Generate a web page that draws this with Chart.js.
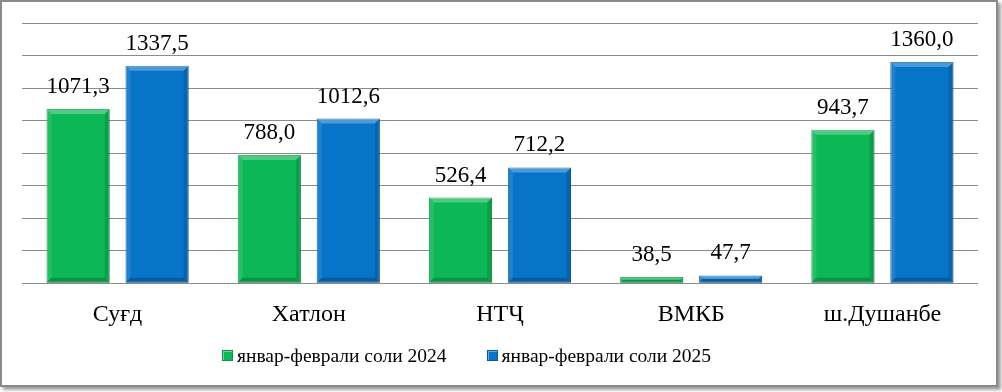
<!DOCTYPE html>
<html>
<head>
<meta charset="utf-8">
<script src="https://cdn.jsdelivr.net/npm/chart.js@4.4.1/dist/chart.umd.min.js"></script>
<style>
    html, body { margin: 0; padding: 0; background: #fff; }
    #frame {
        position: absolute; left: 0; top: 0;
        width: 994px; height: 383px;
        border: 2px solid #8a8a8a;
        box-shadow: 3px 3px 3px #a0a0a0;
        background: #fff;
    }
    #wrap { position: absolute; left: 0; top: 0; width: 1002px; height: 392px; }
    #legend {
        position: absolute; left: 222px; top: 345px;
        font-family: 'Liberation Serif', 'Times New Roman', serif;
        font-size: 19.5px; color: #000; white-space: nowrap;
    }
    #legend .item { display: inline-block; margin-right: 40px; }
    #legend .box {
        display: inline-block; width: 11px; height: 11px; margin-right: 4px;
        vertical-align: 1px; box-sizing: border-box;
    }
</style>
</head>
<body>
<div id="frame"></div>
<div id="wrap"><canvas id="canvas1"></canvas></div>
<div id="legend"></div>
<script>
const regions = ["Суғд", "Хатлон", "НТҶ", "ВМКБ", "ш.Душанбе"];
const vals2024 = [1071.3, 788.0, 526.4, 38.5, 943.7];
const vals2025 = [1337.5, 1012.6, 712.2, 47.7, 1360.0];
const seriesNames = ["январ-феврали соли 2024", "январ-феврали соли 2025"];
const colors = ['#0cb855', '#0774c8'];
const edgeColors = ['#08964a', '#065a9e'];

const fontFam = "'Liberation Serif', 'Times New Roman', serif";

function fmt(v) {
    return v.toFixed(1).replace(".", ",");
}

// бевел по краям столбиков
const bevelPlugin = {
    id: 'bevel',
    afterDatasetsDraw(chart) {
        const ctx = chart.ctx;
        chart.data.datasets.forEach((ds, i) => {
            const meta = chart.getDatasetMeta(i);
            meta.data.forEach(bar => {
                const l = bar.x - bar.width / 2, r = bar.x + bar.width / 2;
                const t = bar.y, b = bar.base;
                const d = Math.min(5, (b - t) / 2);
                ctx.save();
                ctx.fillStyle = 'rgba(255,255,255,0.28)';
                ctx.beginPath();
                ctx.moveTo(l, t); ctx.lineTo(r, t); ctx.lineTo(r - d, t + d); ctx.lineTo(l + d, t + d);
                ctx.closePath(); ctx.fill();
                ctx.fillStyle = 'rgba(255,255,255,0.10)';
                ctx.beginPath();
                ctx.moveTo(l, t); ctx.lineTo(l + d, t + d); ctx.lineTo(l + d, b - d); ctx.lineTo(l, b);
                ctx.closePath(); ctx.fill();
                ctx.fillStyle = 'rgba(0,0,0,0.13)';
                ctx.beginPath();
                ctx.moveTo(r, t); ctx.lineTo(r - d, t + d); ctx.lineTo(r - d, b - d); ctx.lineTo(r, b);
                ctx.closePath(); ctx.fill();
                ctx.fillStyle = 'rgba(0,0,0,0.2)';
                ctx.beginPath();
                ctx.moveTo(l, b); ctx.lineTo(l + d, b - d); ctx.lineTo(r - d, b - d); ctx.lineTo(r, b);
                ctx.closePath(); ctx.fill();
                ctx.restore();
            });
        });
    }
};

// подписи значений
const labelPlugin = {
    id: 'valueLabels',
    afterDatasetsDraw(chart) {
        const ctx = chart.ctx;
        ctx.save();
        ctx.font = "23px " + fontFam;
        ctx.fillStyle = '#000';
        ctx.textAlign = 'center';
        ctx.textBaseline = 'alphabetic';
        chart.data.datasets.forEach((ds, i) => {
            const meta = chart.getDatasetMeta(i);
            meta.data.forEach((bar, j) => {
                ctx.fillText(fmt(ds.data[j]), bar.x, bar.y - 16);
            });
        });
        ctx.restore();
    }
};

const data = {
    labels: regions,
    datasets: [
        {
            label: seriesNames[0],
            data: vals2024,
            backgroundColor: colors[0],
            borderColor: edgeColors[0],
            borderWidth: 1,
            borderSkipped: false,
            barPercentage: 0.8,
            categoryPercentage: 0.826
        },
        {
            label: seriesNames[1],
            data: vals2025,
            backgroundColor: colors[1],
            borderColor: edgeColors[1],
            borderWidth: 1,
            borderSkipped: false,
            barPercentage: 0.8,
            categoryPercentage: 0.826
        }
    ]
};

const config = {
    type: 'bar',
    data: data,
    options: {
        responsive: true,
        maintainAspectRatio: false,
        animation: false,
        layout: { padding: { left: 22, right: 24, top: 23, bottom: 54 } },
        plugins: {
            legend: { display: false },
            tooltip: { enabled: false }
        },
        scales: {
            x: {
                grid: { display: false },
                border: { display: false },
                ticks: { font: { family: fontFam, size: 24 }, color: '#000', padding: 9 }
            },
            y: {
                min: 0, max: 1600,
                ticks: { display: false, stepSize: 200 },
                grid: { color: '#8c8c8c', lineWidth: 1, drawTicks: false },
                border: { display: false }
            }
        }
    },
    plugins: [bevelPlugin, labelPlugin]
};

var canvas = document.getElementById("canvas1");
const chart = new Chart(canvas, config);

// легенда
const legendDiv = document.getElementById("legend");
seriesNames.forEach((name, i) => {
    const item = document.createElement("span");
    item.className = "item";
    const box = document.createElement("span");
    box.className = "box";
    box.style.background = colors[i];
    box.style.border = "1px solid " + edgeColors[i];
    box.style.boxShadow = "inset 1px 1px 0 rgba(255,255,255,0.4)";
    item.appendChild(box);
    item.appendChild(document.createTextNode(name));
    legendDiv.appendChild(item);
});
</script>
</body>
</html>
